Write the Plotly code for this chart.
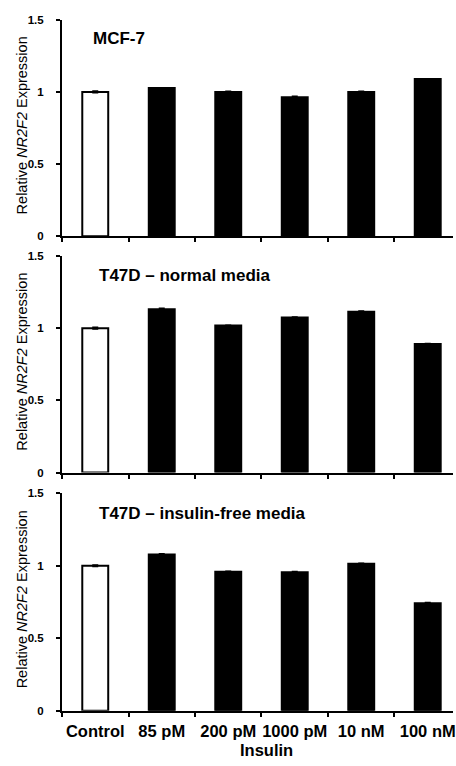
import plotly.graph_objects as go

categories = ["Control", "85 pM", "200 pM", "1000 pM", "10 nM", "100 nM"]
panel_titles = ["MCF-7", "T47D \u2013 normal media", "T47D \u2013 insulin-free media"]
mcf7 = [1.0, 1.027, 1.0, 0.964, 1.0, 1.089]
mcf7_err = [0.006, 0.003, 0.005, 0.006, 0.005, 0.003]
t47d_normal = [1.0, 1.132, 1.018, 1.075, 1.114, 0.891]
t47d_normal_err = [0.006, 0.006, 0.003, 0.003, 0.005, 0.003]
t47d_free = [1.0, 1.077, 0.959, 0.955, 1.014, 0.741]
t47d_free_err = [0.005, 0.006, 0.003, 0.006, 0.003, 0.005]
y_ticks = [0, 0.5, 1, 1.5]
y_tick_text = ["0", "0.5", "1", "1.5"]

series = [mcf7, t47d_normal, t47d_free]
errors = [mcf7_err, t47d_normal_err, t47d_free_err]

W, H = 456, 766
ML = 62
FONT = "Liberation Sans, Arial, Helvetica, sans-serif"
# panel pixel bounds (top, bottom)
panels_px = [(14, 234), (254, 474), (495, 716)]
title_px = [(91, 33), (97, 273.5), (97, 515.5)]

fig = go.Figure()
colors = ["white"] + ["black"] * 5

for i, (vals, errs) in enumerate(zip(series, errors)):
    n = "" if i == 0 else str(i + 1)
    fig.add_trace(go.Bar(
        x=categories, y=vals,
        xaxis="x" + n, yaxis="y" + n,
        width=0.39,
        marker=dict(color=colors, line=dict(color="black", width=2)),
        error_y=dict(type="data", array=errs, visible=True, color="black", thickness=1.5, width=3),
        showlegend=False,
    ))
    top, bot = panels_px[i]
    dom = [1 - bot / H, 1 - top / H]
    xa = dict(
        domain=[0, 1], anchor="y" + n, type="category",
        range=[-0.5, 5.38], showline=True, linecolor="black", linewidth=2,
        ticks="outside", tickson="boundaries", ticklen=4, tickwidth=1.5, tickcolor="black",
        showgrid=False, zeroline=False,
        showticklabels=(i == 2), tickangle=0,
        tickfont=dict(family=FONT, size=16.5, color="black", weight="bold"),
        ticklabelstandoff=4,
    )
    ya = dict(
        domain=dom, anchor="x" + n, range=[0, 1.5],
        tickvals=y_ticks, ticktext=y_tick_text,
        showline=True, linecolor="black", linewidth=2,
        ticks="outside", ticklen=4, tickwidth=1.5, tickcolor="black",
        showgrid=False, zeroline=False,
        tickfont=dict(family=FONT, size=11.5, color="black", weight="bold"),
        ticklabelstandoff=10,
    )
    fig.layout["xaxis" + n] = xa
    fig.layout["yaxis" + n] = ya
    # y title
    fig.add_annotation(
        text="Relative <i>NR2F2</i> Expression", textangle=-90,
        xref="paper", yref="paper",
        x=(22 - ML) / (W - ML), y=1 - ((top + bot) / 2 - 3) / H,
        xanchor="center", yanchor="middle", showarrow=False,
        font=dict(family=FONT, size=14.5, color="black"),
    )
    tx, ty = title_px[i]
    fig.add_annotation(
        text="<b>" + panel_titles[i] + "</b>",
        xref="paper", yref="paper",
        x=(tx - ML) / (W - ML), y=1 - ty / H,
        xanchor="left", yanchor="middle", showarrow=False,
        font=dict(family=FONT, size=17, color="black"),
    )

fig.add_annotation(
    text="<b>Insulin</b>", xref="paper", yref="paper",
    x=(268 - ML) / (W - ML), y=1 - 756 / H,
    xanchor="center", yanchor="middle", showarrow=False,
    font=dict(family=FONT, size=16.5, color="black"),
)

fig.update_layout(
    width=W, height=H,
    margin=dict(l=ML, r=0, t=0, b=0),
    paper_bgcolor="white", plot_bgcolor="white",
    bargap=0.6,
)

fig.write_html(
    "out.html",
    config={"displayModeBar": False},
    post_script="document.body.style.margin='0';document.body.style.overflow='hidden';",
)
